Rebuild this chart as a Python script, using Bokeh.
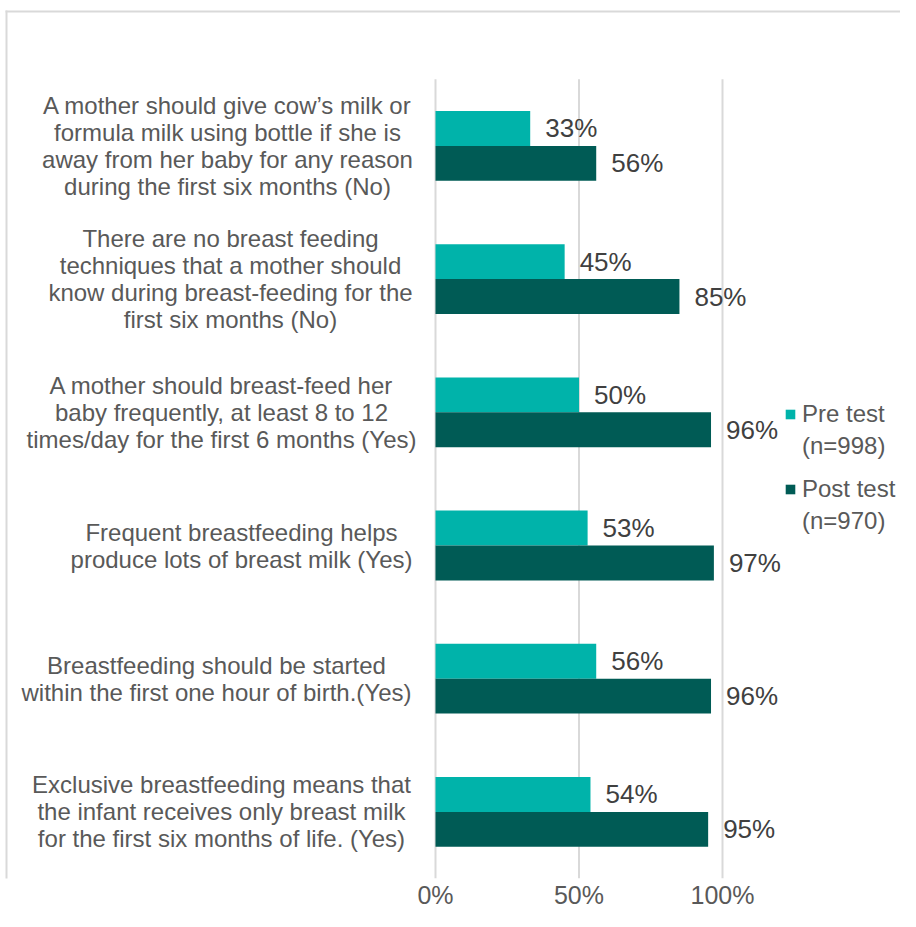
from bokeh.plotting import figure
from bokeh.models import (ColumnDataSource, Range1d, FixedTicker, Legend,
                          LegendItem, BoxAnnotation)
from bokeh.transform import dodge
from bokeh.core.properties import value
from bokeh.embed import file_html
from bokeh.resources import INLINE

# ---------------- data ----------------
categories = [
    "A mother should give cow\u2019s milk or\nformula milk using bottle if she is\naway from her baby for any reason\nduring the first six months (No)",
    "There are no breast feeding\ntechniques that a mother should\nknow during breast-feeding for the\nfirst six months (No)",
    "A mother should breast-feed her\nbaby frequently, at least 8 to 12\ntimes/day for the first 6 months (Yes)",
    "Frequent breastfeeding helps\nproduce lots of breast milk (Yes)",
    "Breastfeeding should be started\nwithin the first one hour of birth.(Yes)",
    "Exclusive breastfeeding means that\nthe infant receives only breast milk\nfor the first six months of life. (Yes)",
]
pre_test = [33, 45, 50, 53, 56, 54]
post_test = [56, 85, 96, 97, 96, 95]
series_names = ["Pre test", "Post test"]
series_n = ["(n=998)", "(n=970)"]
x_ticks = [0, 50, 100]
x_tick_labels = ["0%", "50%", "100%"]

# ---------------- styles / layout ----------------
PRE_COLOR = "#00B3AA"
POST_COLOR = "#005B55"
FONT = "Liberation Sans"
TEXT_GRAY = "#595959"
LABEL_DARK = "#404040"
GRID = "#D9D9D9"
BAR_H = 0.262

W, H = 900, 911
BOTTOM = 31                 # room for the x axis
PX_PER_PCT = 2.87           # 100 % = 287 px
ZERO_PX = 435               # 0 % line, from left of canvas
CAT_PX = 133.5              # height of one category band
TOP_PX = 79                 # top of the first band


def x_at(px):
    return (px - ZERO_PX) / PX_PER_PCT


def y_at(px):
    return -0.5 + (px - TOP_PX) / CAT_PX


# centre of each category label block (canvas px)
label_centre_px = [227, 230, 221, 241, 216, 221]

idx = list(range(len(categories)))
src = ColumnDataSource(dict(
    y=idx,
    pre=pre_test,
    post=post_test,
    pre_lbl=[f"{v}%" for v in pre_test],
    post_lbl=[f"{v}%" for v in post_test],
    cat=categories,
    cat_x=[x_at(c) for c in label_centre_px],
))

p = figure(width=W, height=H,
           x_range=Range1d(x_at(0), x_at(W)),
           y_range=Range1d(y_at(H - BOTTOM), y_at(0)),
           output_backend="svg", toolbar_location=None,
           min_border_left=0, min_border_right=0,
           min_border_top=0, min_border_bottom=BOTTOM)
p.outline_line_color = None
p.background_fill_color = "white"
p.border_fill_color = "white"

# vertical gridlines, only over the bar area
grid_src = ColumnDataSource(dict(x=x_ticks, y0=[-0.5] * len(x_ticks),
                                 y1=[len(categories) - 0.5] * len(x_ticks)))
p.segment(x0="x", x1="x", y0="y0", y1="y1", source=grid_src,
          line_color=GRID, line_width=2)

r_pre = p.hbar(y=dodge("y", -BAR_H / 2, range=p.y_range), left=0, right="pre",
               height=BAR_H, source=src, fill_color=PRE_COLOR, line_color=None)
r_post = p.hbar(y=dodge("y", BAR_H / 2, range=p.y_range), left=0, right="post",
                height=BAR_H, source=src, fill_color=POST_COLOR, line_color=None)

p.text(x="pre", y=dodge("y", -BAR_H / 2, range=p.y_range), text="pre_lbl",
       source=src, x_offset=15, text_align="left", text_baseline="middle",
       text_font=value(FONT), text_font_size="26px", text_color=LABEL_DARK)
p.text(x="post", y=dodge("y", BAR_H / 2, range=p.y_range), text="post_lbl",
       source=src, x_offset=15, text_align="left", text_baseline="middle",
       text_font=value(FONT), text_font_size="26px", text_color=LABEL_DARK)

# category labels
p.text(x="cat_x", y="y", text="cat", source=src, text_align="center",
       text_baseline="middle", text_font=value(FONT), text_font_size="24px",
       text_color=TEXT_GRAY, text_line_height=1.0)

# axes
p.yaxis.visible = False
xa = p.xaxis[0]
xa.ticker = FixedTicker(ticks=x_ticks)
xa.major_label_overrides = {t: l for t, l in zip(x_ticks, x_tick_labels)}
xa.axis_line_color = None
xa.major_tick_line_color = None
xa.minor_tick_line_color = None
xa.major_tick_out = 0
xa.major_tick_in = 0
xa.major_label_standoff = 2
xa.major_label_text_font = FONT
xa.major_label_text_font_size = "25px"
xa.major_label_text_color = TEXT_GRAY
p.xgrid.grid_line_color = None
p.ygrid.grid_line_color = None


def make_legend(items, y):
    lg = Legend(items=items, location=(784, y))
    lg.border_line_color = None
    lg.background_fill_alpha = 0
    lg.padding = 0
    lg.margin = 0
    lg.spacing = 2
    lg.glyph_width = 12
    lg.glyph_height = 12
    lg.label_standoff = 6
    lg.label_text_font = FONT
    lg.label_text_font_size = "24px"
    lg.label_text_color = TEXT_GRAY
    lg.label_height = 30
    return lg


p.add_layout(make_legend([LegendItem(label=series_names[0], renderers=[r_pre]),
                          LegendItem(label=series_n[0], renderers=[])], 880 - 463))
p.add_layout(make_legend([LegendItem(label=series_names[1], renderers=[r_post]),
                          LegendItem(label=series_n[1], renderers=[])], 880 - 538))

# chart-area border (top and left)
p.add_layout(BoxAnnotation(left=x_at(5), right=x_at(W), top=y_at(10), bottom=y_at(12),
                           fill_color=GRID, fill_alpha=1, line_color=None))
p.add_layout(BoxAnnotation(left=x_at(5), right=x_at(7), top=y_at(10), bottom=y_at(H),
                           fill_color=GRID, fill_alpha=1, line_color=None))

open("out.html", "w").write(file_html(p, INLINE))
